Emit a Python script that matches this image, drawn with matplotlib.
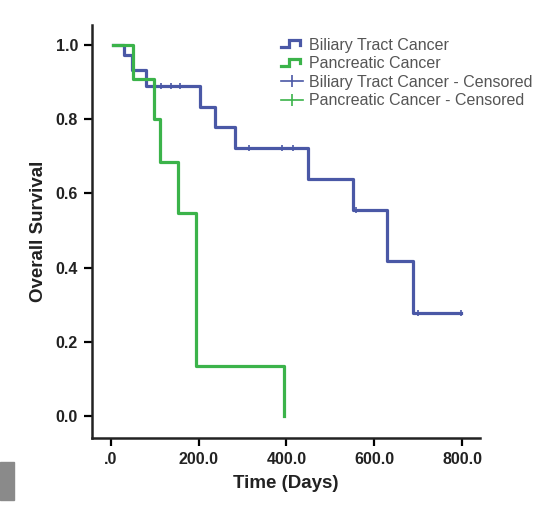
import numpy as np
import matplotlib.pyplot as plt
from matplotlib.legend_handler import HandlerBase
from matplotlib.lines import Line2D
from matplotlib.patches import Rectangle

plt.rcParams['font.family'] = ['Liberation Sans', 'DejaVu Sans']

# Kaplan-Meier steps (days, survival)
biliary_t = [5, 30, 49, 79, 203, 238, 282, 450, 551, 630, 689, 797]
biliary_s = [1.0, 0.972, 0.933, 0.889, 0.833, 0.778, 0.722, 0.639, 0.556, 0.417, 0.278, 0.278]
biliary_cens_t = [115, 136, 157, 314, 389, 414, 558, 699, 797]

pancreatic_t = [5, 51, 98, 112, 152, 194, 394, 394]
pancreatic_s = [1.0, 0.909, 0.80, 0.684, 0.547, 0.135, 0.135, 0.0]
pancreatic_cens_t = []

xticks = [0, 200, 400, 600, 800]
xtick_labels = ['.0', '200.0', '400.0', '600.0', '800.0']
yticks = [0.0, 0.2, 0.4, 0.6, 0.8, 1.0]

blue = '#4a58a6'
green = '#3bb34a'


def km_value(ts, ss, t):
    idx = np.searchsorted(ts, t, side='right') - 1
    return ss[max(idx, 0)]


class StepHandler(HandlerBase):
    def create_artists(self, legend, orig, xd, yd, w, h, fontsize, trans):
        xs = [xd, xd + w * 0.35, xd + w * 0.35, xd + w * 0.85, xd + w * 0.85]
        ys = [yd + h * 0.2, yd + h * 0.2, yd + h * 0.85, yd + h * 0.85, yd + h * 0.45]
        ln = Line2D(xs, ys, color=orig.get_color(), lw=orig.get_linewidth(),
                    solid_joinstyle='miter', transform=trans)
        return [ln]


fig = plt.figure(figsize=(5.42, 5.09), dpi=100)
ax = fig.add_axes([92 / 542, (509 - 438) / 509, (480 - 92) / 542, (438 - 25) / 509])

b_line, = ax.step(biliary_t, biliary_s, where='post', color=blue, lw=2.3)
p_line, = ax.step(pancreatic_t, pancreatic_s, where='post', color=green, lw=2.3)

bc = ax.plot(biliary_cens_t, [km_value(biliary_t, biliary_s, t) for t in biliary_cens_t],
             ls='none', marker='|', ms=5, mew=1.2, color=blue)[0]
pc = ax.plot(pancreatic_cens_t, [km_value(pancreatic_t, pancreatic_s, t) for t in pancreatic_cens_t],
             ls='none', marker='|', ms=5, mew=1.2, color=green)[0]

ax.set_xlim(-43, 841)
ax.set_ylim(-0.059, 1.054)
ax.set_xticks(xticks)
ax.set_xticklabels(xtick_labels)
ax.set_yticks(yticks)
ax.set_yticklabels(['%.1f' % v for v in yticks])
for lab in ax.get_xticklabels() + ax.get_yticklabels():
    lab.set_fontweight('bold')
    lab.set_fontsize(11.5)
    lab.set_color('#222222')
ax.tick_params(direction='out', length=6, width=1.6, pad=4)

for s in ['top', 'right']:
    ax.spines[s].set_visible(False)
for s in ['left', 'bottom']:
    ax.spines[s].set_linewidth(1.8)
    ax.spines[s].set_color('#222222')

ax.set_xlabel('Time (Days)', fontsize=13.5, fontweight='bold', color='#222222', labelpad=6)
ax.set_ylabel('Overall Survival', fontsize=13.5, fontweight='bold', color='#222222', labelpad=6)

h_bc = Line2D([], [], color=blue, marker='|', ms=8, mew=1.2, lw=1.2)
h_pc = Line2D([], [], color=green, marker='|', ms=8, mew=1.2, lw=1.2)
leg = ax.legend([b_line, p_line, h_bc, h_pc],
                ['Biliary Tract Cancer', 'Pancreatic Cancer',
                 'Biliary Tract Cancer - Censored', 'Pancreatic Cancer - Censored'],
                handler_map={b_line: StepHandler(), p_line: StepHandler()},
                loc='upper left', bbox_to_anchor=(0.47, 0.985), frameon=False,
                fontsize=11.5, handlelength=1.4, handletextpad=0.35, labelspacing=0.22,
                borderaxespad=0)
for t in leg.get_texts():
    t.set_color('#555555')

# grey block at the bottom left of the scan
fig.patches.append(Rectangle((0, (509 - 500) / 509), 14 / 542, 38 / 509,
                             transform=fig.transFigure, color='#8a8a8a', zorder=0))

fig.savefig('out.png', dpi=100)
